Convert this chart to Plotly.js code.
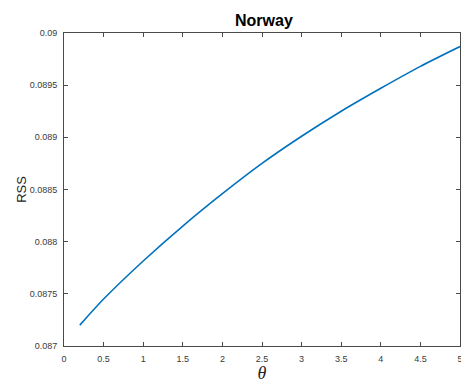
<!DOCTYPE html>
<html>
<head>
<meta charset="utf-8">
<script src="https://cdn.plot.ly/plotly-3.0.1.min.js"></script>
<style>
  html, body { margin: 0; padding: 0; background: #fff; }
  #chart { width: 461px; height: 383px; }
</style>
</head>
<body>
<div id="chart"></div>
<script>
// Residual sum of squares as a function of theta
const theta = [0.2, 0.5, 1.0, 1.5, 2.0, 2.5, 3.0, 3.5, 4.0, 4.5, 5.0];
const rss = [0.08720, 0.08745, 0.087815, 0.08815, 0.08846, 0.08875, 0.08901, 0.08925, 0.08947, 0.08968, 0.08987];

const xTickVals = [0, 0.5, 1, 1.5, 2, 2.5, 3, 3.5, 4, 4.5, 5];
const xTickText = ['0', '0.5', '1', '1.5', '2', '2.5', '3', '3.5', '4', '4.5', '5'];
const yTickVals = [0.087, 0.0875, 0.088, 0.0885, 0.089, 0.0895, 0.09];
const yTickText = ['0.087', '0.0875', '0.088', '0.0885', '0.089', '0.0895', '0.09'];

const axisCommon = {
  showgrid: false,
  zeroline: false,
  showline: true,
  linecolor: '#4a4a4a',
  linewidth: 1,
  mirror: 'ticks',
  ticks: 'inside',
  ticklen: 4,
  tickwidth: 1,
  tickcolor: '#4a4a4a',
  tickfont: { family: 'Liberation Sans, Arial, sans-serif', size: 9, color: '#3a3a3a' },
  ticklabelstandoff: 4,
  ticklabeloverflow: 'allow'
};

const trace = {
  x: theta,
  y: rss,
  type: 'scatter',
  mode: 'lines',
  line: { color: '#0072BD', width: 1.6, shape: 'spline', smoothing: 0.8 },
  hoverinfo: 'skip'
};

const layout = {
  width: 461,
  height: 383,
  margin: { l: 64, r: 1, t: 33, b: 37 },
  paper_bgcolor: '#ffffff',
  plot_bgcolor: '#ffffff',
  showlegend: false,
  title: {
    text: '<b>Norway</b>',
    font: { family: 'Liberation Sans, Arial, sans-serif', size: 16, color: '#000' },
    x: 0.5725, xanchor: 'center',
    y: 0.946, yanchor: 'middle'
  },
  xaxis: Object.assign({}, axisCommon, {
    range: [0, 5],
    tickvals: xTickVals,
    ticktext: xTickText,
    title: {
      text: '<i>θ</i>',
      font: { family: 'Liberation Serif, Times New Roman, serif', size: 18, color: '#222' },
      standoff: 9
    }
  }),
  yaxis: Object.assign({}, axisCommon, {
    range: [0.087, 0.09],
    tickvals: yTickVals,
    ticktext: yTickText,
    title: {
      text: 'RSS',
      font: { family: 'Liberation Sans, Arial, sans-serif', size: 13, color: '#222' },
      standoff: 0
    }
  })
};

Plotly.newPlot('chart', [trace], layout, { staticPlot: true, displayModeBar: false });
</script>
</body>
</html>
